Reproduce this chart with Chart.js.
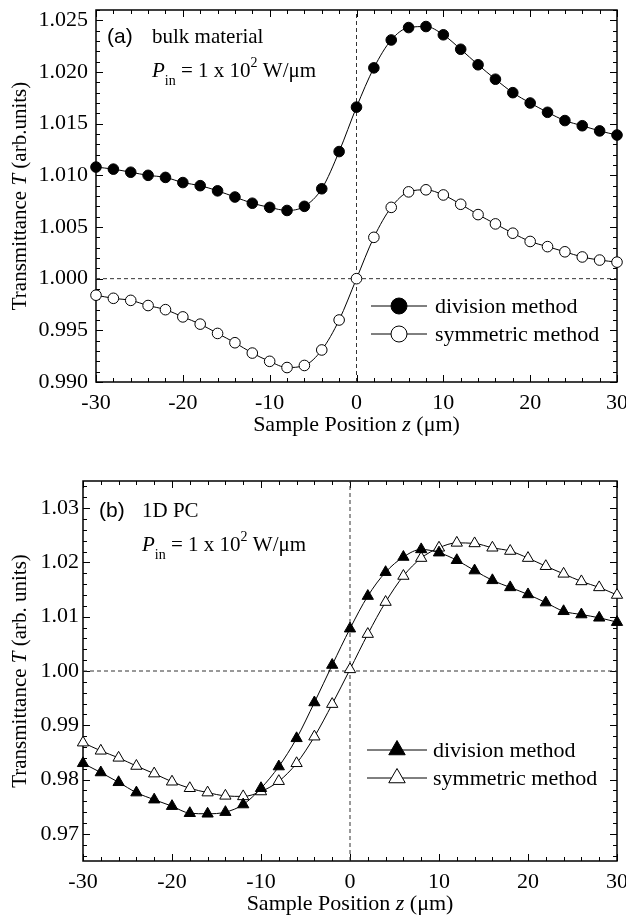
<!DOCTYPE html>
<html>
<head>
<meta charset="utf-8">
<script src="https://cdn.jsdelivr.net/npm/chart.js@4.4.1/dist/chart.umd.min.js"></script>
<style>
  html, body { margin: 0; padding: 0; background: #fff; }
  #wrap { position: relative; width: 626px; height: 916px; }
  canvas { position: absolute; left: 0; }
</style>
</head>
<body>
<div id="wrap">
  <canvas id="chartA" width="626" height="445" style="top:0"></canvas>
  <canvas id="chartB" width="626" height="471" style="top:445px"></canvas>
</div>
<script>
// sample positions z (um)
const zPos = [-30, -28, -26, -24, -22, -20, -18, -16, -14, -12, -10, -8, -6, -4, -2, 0,
              2, 4, 6, 8, 10, 12, 14, 16, 18, 20, 22, 24, 26, 28, 30];

// (a) bulk material
const bulkDivision = [1.0108, 1.0106, 1.0103, 1.0100, 1.0098, 1.0093, 1.0090, 1.0085, 1.0079, 1.0073,
  1.0069, 1.0066, 1.0070, 1.0087, 1.0123, 1.0166, 1.0204, 1.0231, 1.0243, 1.0244, 1.0236, 1.0222,
  1.0207, 1.0193, 1.0180, 1.0170, 1.0161, 1.0153, 1.0148, 1.0143, 1.0139];
const bulkSymmetric = [0.9984, 0.9981, 0.9979, 0.9974, 0.9970, 0.9963, 0.9956, 0.9947, 0.9938, 0.9928,
  0.9920, 0.9914, 0.9916, 0.9931, 0.9960, 1.0000, 1.0040, 1.0069, 1.0084, 1.0086, 1.0081, 1.0072,
  1.0062, 1.0053, 1.0044, 1.0036, 1.0031, 1.0026, 1.0021, 1.0018, 1.0016];

// (b) 1D PC
const pcDivision = [0.9830, 0.9813, 0.9795, 0.9776, 0.9763, 0.9751, 0.9738, 0.9737, 0.9740, 0.9754,
  0.9784, 0.9824, 0.9876, 0.9942, 1.0011, 1.0078, 1.0138, 1.0182, 1.0210, 1.0224, 1.0218, 1.0204,
  1.0185, 1.0167, 1.0154, 1.0141, 1.0126, 1.0110, 1.0104, 1.0098, 1.0090];
const pcSymmetric = [0.9868, 0.9853, 0.9840, 0.9825, 0.9811, 0.9796, 0.9784, 0.9776, 0.9770, 0.9769,
  0.9778, 0.9797, 0.9830, 0.9879, 0.9939, 1.0003, 1.0068, 1.0127, 1.0175, 1.0208, 1.0227, 1.0236,
  1.0235, 1.0227, 1.0221, 1.0208, 1.0193, 1.0179, 1.0165, 1.0154, 1.0140];

// axes
const xTicks = [-30, -20, -10, 0, 10, 20, 30];
const yTicksA = [0.990, 0.995, 1.000, 1.005, 1.010, 1.015, 1.020, 1.025];
const yTicksB = [0.97, 0.98, 0.99, 1.00, 1.01, 1.02, 1.03];
const refZ = 0;
const refT = 1;

const SERIF = '"Liberation Serif", "Times New Roman", serif';
const SANS = '"Liberation Sans", Arial, sans-serif';
const W = 626;

const xy = ys => zPos.map((z, i) => ({ x: z, y: ys[i] }));

function runsWidth(ctx, runs) {
  let w = 0;
  runs.forEach(r => { ctx.font = r.font; w += ctx.measureText(r.t).width; });
  return w;
}
function drawRuns(ctx, x, y, runs) {
  runs.forEach(r => {
    ctx.font = r.font;
    ctx.fillText(r.t, x, y + (r.dy || 0));
    x += ctx.measureText(r.t).width;
  });
}
function pinRuns(size) {
  return [
    { t: 'P', font: `italic ${size}px ${SERIF}` },
    { t: 'in', font: `14px ${SERIF}`, dy: 8 },
    { t: ' = 1 x 10', font: `${size}px ${SERIF}` },
    { t: '2', font: `14px ${SERIF}`, dy: -10 },
    { t: ' W/\u03bcm', font: `${size}px ${SERIF}` }
  ];
}

function marker(ctx, style, x, y, r, fill) {
  ctx.beginPath();
  if (style === 'triangle') {
    for (let k = 0; k < 3; k++) {
      const a = k * 2 * Math.PI / 3;
      const px = x + Math.sin(a) * r, py = y - Math.cos(a) * r;
      k ? ctx.lineTo(px, py) : ctx.moveTo(px, py);
    }
    ctx.closePath();
  } else {
    ctx.arc(x, y, r, 0, Math.PI * 2);
  }
  ctx.fillStyle = fill;
  ctx.fill();
  ctx.strokeStyle = '#000';
  ctx.lineWidth = 1;
  ctx.stroke();
}

// frame + inward ticks on all four sides
const frameTicks = {
  id: 'frameTicks',
  beforeDatasetsDraw(chart) {
    const { ctx, chartArea: a, scales: { x, y } } = chart;
    ctx.save();
    ctx.strokeStyle = '#000';
    ctx.lineWidth = 1;
    const xs = x.ticks.map(t => t.value);
    const xStep = (xs[1] - xs[0]) / 5;
    for (let k = -20; k <= 200; k++) {
      const v = xs[0] + k * xStep;
      if (v < x.min - 1e-9 || v > x.max + 1e-9) continue;
      const major = k % 5 === 0;
      const len = major ? 7 : 4;
      const px = Math.round(x.getPixelForValue(v)) + 0.5;
      ctx.beginPath();
      ctx.moveTo(px, a.bottom); ctx.lineTo(px, a.bottom - len);
      ctx.moveTo(px, a.top); ctx.lineTo(px, a.top + len);
      ctx.stroke();
    }
    const ys = y.ticks.map(t => t.value);
    const yStep = (ys[1] - ys[0]) / 5;
    for (let k = -20; k <= 200; k++) {
      const v = ys[0] + k * yStep;
      if (v < y.min - 1e-9 || v > y.max + 1e-9) continue;
      const major = ((k % 5) + 5) % 5 === 0;
      const len = major ? 7 : 4;
      const py = Math.round(y.getPixelForValue(v)) + 0.5;
      ctx.beginPath();
      ctx.moveTo(a.left, py); ctx.lineTo(a.left + len, py);
      ctx.moveTo(a.right, py); ctx.lineTo(a.right - len, py);
      ctx.stroke();
    }
    ctx.lineWidth = 1.5;
    ctx.strokeRect(a.left, a.top, a.right - a.left, a.bottom - a.top);
    ctx.restore();
  }
};

// legend inside plot, line-marker-line style
const insideLegend = {
  id: 'insideLegend',
  afterDatasetsDraw(chart, args, opts) {
    const { ctx, chartArea: a } = chart;
    ctx.save();
    opts.items.forEach((idx, row) => {
      const ds = chart.data.datasets[idx];
      const cx = a.left + opts.left;
      const cy = a.top + opts.top + row * opts.gap;
      ctx.strokeStyle = '#000';
      ctx.lineWidth = 1;
      ctx.beginPath();
      ctx.moveTo(cx - opts.half, cy); ctx.lineTo(cx + opts.half, cy);
      ctx.stroke();
      marker(ctx, ds.pointStyle, cx, cy, opts.radius, ds.pointBackgroundColor);
      ctx.fillStyle = '#000';
      ctx.font = `22px ${SERIF}`;
      ctx.textBaseline = 'middle';
      ctx.textAlign = 'left';
      ctx.fillText(ds.label, a.left + opts.textLeft, cy + 1);
    });
    ctx.restore();
  }
};

// panel notes + axis titles
const notes = {
  id: 'notes',
  afterDraw(chart, args, opts) {
    const { ctx, chartArea: a } = chart;
    ctx.save();
    ctx.fillStyle = '#000';
    ctx.textBaseline = 'alphabetic';
    ctx.textAlign = 'left';
    ctx.font = `21px ${SANS}`;
    ctx.fillText(opts.tag, opts.tagX, opts.line1);
    ctx.font = `21px ${SERIF}`;
    ctx.fillText(opts.name, opts.textX, opts.line1);
    drawRuns(ctx, opts.textX, opts.line2, pinRuns(21));

    // x title
    const xr = [
      { t: 'Sample Position ', font: `22px ${SERIF}` },
      { t: 'z', font: `italic 22px ${SERIF}` },
      { t: ' (\u03bcm)', font: `22px ${SERIF}` }
    ];
    const xw = runsWidth(ctx, xr);
    drawRuns(ctx, (a.left + a.right) / 2 - xw / 2, opts.xTitleY, xr);

    // y title
    const yr = [
      { t: 'Transmittance ', font: `21px ${SERIF}` },
      { t: 'T', font: `italic 21px ${SERIF}` },
      { t: opts.yUnits, font: `21px ${SERIF}` }
    ];
    const yw = runsWidth(ctx, yr);
    ctx.translate(26, (a.top + a.bottom) / 2);
    ctx.rotate(-Math.PI / 2);
    drawRuns(ctx, -yw / 2, 0, yr);
    ctx.restore();
  }
};

function dataset(label, ys, style, fill, radius) {
  return {
    label, data: xy(ys),
    borderColor: '#000', borderWidth: 1,
    pointStyle: style, pointRadius: radius,
    pointBackgroundColor: fill, pointBorderColor: '#000', pointBorderWidth: 1,
    cubicInterpolationMode: 'monotone', clip: false
  };
}
function refLine(points) {
  return {
    label: '', data: points, borderColor: '#333', borderWidth: 1,
    borderDash: [4, 3], pointRadius: 0, tension: 0
  };
}

function buildChart(id, cfg) {
  const H = document.getElementById(id).height;
  return new Chart(document.getElementById(id), {
    type: 'line',
    data: {
      datasets: [
        dataset('division method', cfg.div, cfg.style, '#000', cfg.radius),
        dataset('symmetric method', cfg.sym, cfg.style, '#fff', cfg.radius),
        refLine([{ x: zPos[0], y: refT }, { x: zPos[zPos.length - 1], y: refT }]),
        refLine([{ x: refZ, y: cfg.yMin }, { x: refZ, y: cfg.yMax }])
      ]
    },
    options: {
      responsive: false,
      animation: false,
      events: [],
      layout: { padding: { top: cfg.area.top, right: W - cfg.area.right, left: 0, bottom: 0 } },
      plugins: {
        legend: { display: false },
        tooltip: { enabled: false },
        insideLegend: cfg.legend,
        notes: cfg.notes
      },
      scales: {
        x: {
          type: 'linear', min: -30, max: 30,
          grid: { display: false, drawTicks: false },
          border: { display: false },
          ticks: {
            color: '#000', padding: 8, maxRotation: 0,
            font: { family: SERIF, size: 22 },
            callback: v => String(v)
          },
          afterBuildTicks: s => { s.ticks = xTicks.map(v => ({ value: v })); },
          afterFit: s => {
            s.height = H - cfg.area.bottom;
            s.paddingLeft = 0; s.paddingRight = 0;
          }
        },
        y: {
          type: 'linear', min: cfg.yMin, max: cfg.yMax,
          grid: { display: false, drawTicks: false },
          border: { display: false },
          ticks: {
            color: '#000', padding: cfg.yPad,
            font: { family: SERIF, size: 22 },
            callback: v => v.toFixed(cfg.digits)
          },
          afterBuildTicks: s => { s.ticks = cfg.yTicks.map(v => ({ value: v })); },
          afterFit: s => {
            s.width = cfg.area.left;
            s.paddingTop = 0; s.paddingBottom = 0;
          }
        }
      }
    },
    plugins: [frameTicks, insideLegend, notes]
  });
}

buildChart('chartA', {
  div: bulkDivision, sym: bulkSymmetric, style: 'circle', radius: 5.3,
  yMin: 0.990, yMax: 1.026, yTicks: yTicksA, digits: 3, yPad: 8,
  area: { left: 96, right: 617, top: 10, bottom: 382 },
  legend: { items: [0, 1], left: 303, top: 296, gap: 28, half: 28, radius: 8, textLeft: 339 },
  notes: { tag: '(a)', name: 'bulk material', tagX: 107, textX: 152, line1: 43, line2: 77,
           xTitleY: 431, yUnits: ' (arb.units)' }
});

buildChart('chartB', {
  div: pcDivision, sym: pcSymmetric, style: 'triangle', radius: 6.5,
  yMin: 0.965, yMax: 1.035, yTicks: yTicksB, digits: 2, yPad: 4,
  area: { left: 83, right: 617, top: 36, bottom: 416 },
  legend: { items: [0, 1], left: 314, top: 269, gap: 28, half: 30, radius: 9.5, textLeft: 350 },
  notes: { tag: '(b)', name: '1D PC', tagX: 99, textX: 142, line1: 72, line2: 106,
           xTitleY: 465, yUnits: ' (arb. units)' }
});
</script>
</body>
</html>
